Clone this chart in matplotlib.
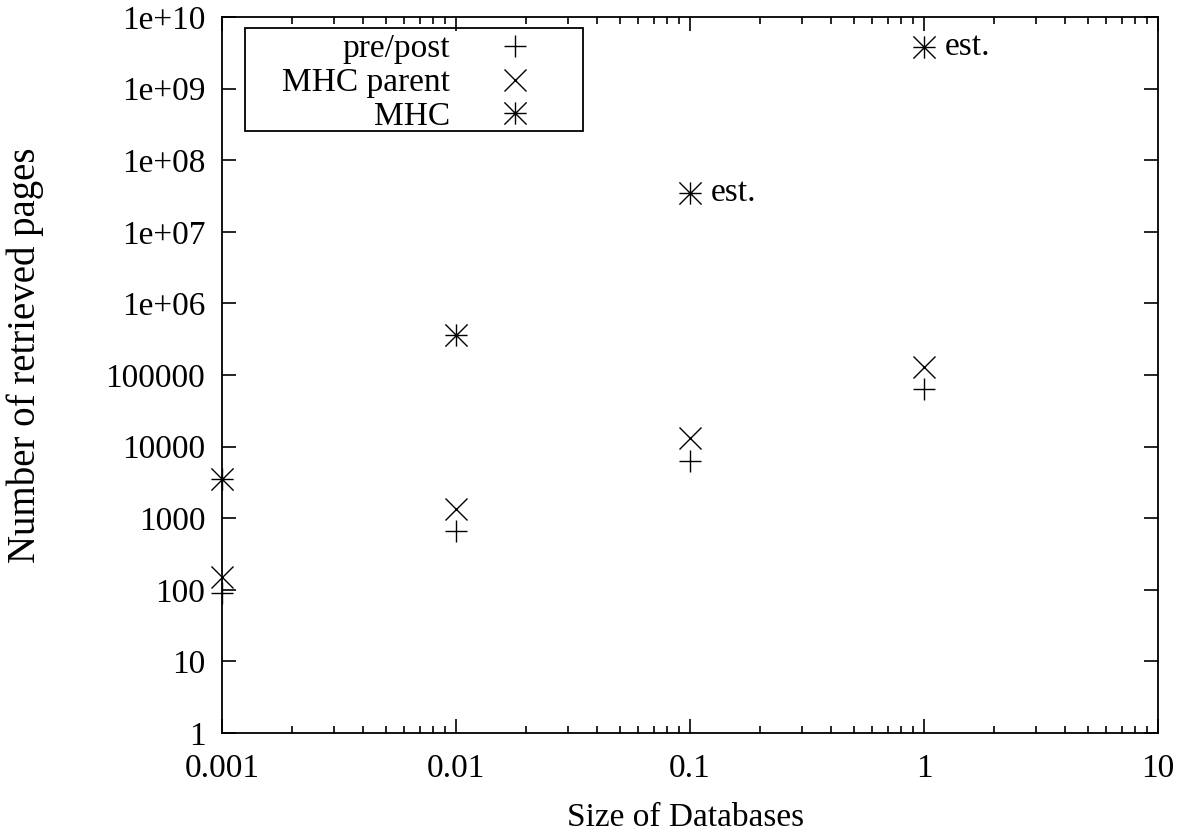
import matplotlib.pyplot as plt
from matplotlib.path import Path
from matplotlib.patches import Rectangle
from matplotlib.ticker import LogLocator, FixedLocator, FixedFormatter, NullFormatter

plt.rcParams['font.family'] = ['Liberation Serif', 'DejaVu Serif']

# data
sizes = [0.001, 0.01, 0.1, 1]
pre_post = [90, 660, 6300, 63500]
mhc_parent = [150, 1340, 13200, 129000]
mhc = [3530, 361000, 3.5e7, 3.8e9]
est_sizes = [0.1, 1]
est_vals = [3.5e7, 3.8e9]

yticks = [10.0**k for k in range(11)]
ylabels = ['1', '10', '100', '1000', '10000', '100000',
           '1e+06', '1e+07', '1e+08', '1e+09', '1e+10']
xticks = [0.001, 0.01, 0.1, 1, 10]
xlabels = ['0.001', '0.01', '0.1', '1', '10']

# gnuplot style "*" point: a plus and a cross on top of each other
star = Path([(-1, 0), (1, 0), (0, -1), (0, 1), (-1, -1), (1, 1), (-1, 1), (1, -1)],
            [Path.MOVETO, Path.LINETO] * 4)

fs = 24
fig = plt.figure(figsize=(11.86, 8.35), dpi=100)
ax = fig.add_axes([222/1186, 1 - 733/835, (1158-222)/1186, (733-17)/835])

ms = 16
ax.plot(sizes, pre_post, ls='none', marker='+', ms=ms, mew=1.0, color='black',
        label='pre/post', clip_on=False)
ax.plot(sizes, mhc_parent, ls='none', marker='x', ms=ms, mew=1.0, color='black',
        label='MHC parent', clip_on=False)
ax.plot(sizes, mhc, ls='none', marker=star, ms=ms, mew=1.0, color='black',
        label='MHC', clip_on=False)

for xs, ys in zip(est_sizes, est_vals):
    ax.annotate('est.', (xs, ys), xytext=(15, 0), textcoords='offset points',
                va='center', ha='left', fontsize=fs)

ax.set_xscale('log')
ax.set_yscale('log')
ax.set_xlim(0.001, 10)
ax.set_ylim(1, 1e10)

ax.yaxis.set_major_locator(FixedLocator(yticks))
ax.yaxis.set_major_formatter(FixedFormatter(ylabels))
ax.yaxis.set_minor_locator(FixedLocator([]))
ax.xaxis.set_major_locator(FixedLocator(xticks))
ax.xaxis.set_major_formatter(FixedFormatter(xlabels))
ax.xaxis.set_minor_locator(LogLocator(base=10, subs=range(2, 10)))
ax.xaxis.set_minor_formatter(NullFormatter())

ax.tick_params(which='both', direction='in', top=True, right=True, labelsize=fs, width=1.2)
ax.tick_params(which='major', length=10)
ax.tick_params(axis='x', which='major', pad=15)
ax.tick_params(axis='y', which='major', pad=12)
ax.tick_params(which='minor', length=5)
for s in ax.spines.values():
    s.set_linewidth(1.3)

ax.set_xlabel('Size of Databases', fontsize=fs, va='top')
ax.xaxis.set_label_coords(0.495, -0.097)
ax.set_ylabel('Number of retrieved pages', fontsize=28)
ax.yaxis.set_label_coords(-0.190, 0.528)

# legend frame (gnuplot key box), drawn below the border ticks
ax.add_patch(Rectangle((23/936, 1 - 114/716), 338/936, 103/716, transform=ax.transAxes,
                       facecolor='white', edgecolor='black', lw=1.3, zorder=1.5,
                       clip_on=False))
leg = ax.legend(loc='upper left', bbox_to_anchor=(60/936, 1 - 17/716), markerfirst=False,
                fontsize=fs, frameon=False, borderpad=0, labelspacing=0.1,
                handletextpad=0.9, handlelength=2.1, borderaxespad=0)
for t in leg.get_texts():
    t.set_ha('right')

fig.savefig('out.png', dpi=100)
